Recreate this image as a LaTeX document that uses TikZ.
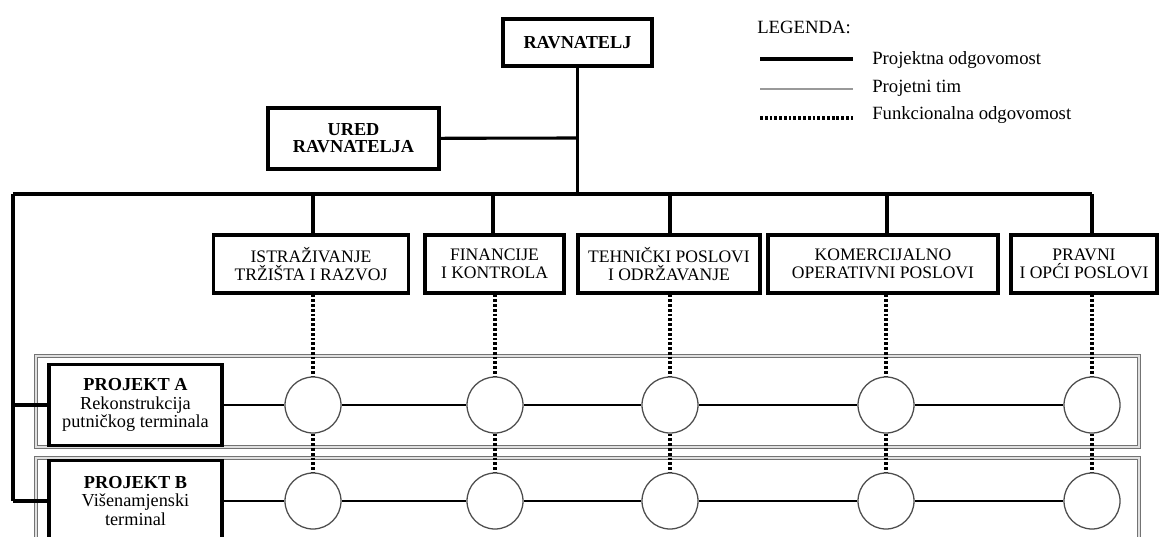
\documentclass[tikz,border=0pt]{standalone}
\usepackage{fontspec}
\setmainfont{Liberation Serif}
\pgfdeclarelayer{edgelayer}
\pgfdeclarelayer{nodelayer}
\pgfsetlayers{edgelayer,nodelayer,main}
\tikzset{font=\fontsize{12.5}{13}\selectfont}
\tikzstyle{none}=[inner sep=0pt]
\tikzstyle{chief}=[draw, line width=2.2pt, fill=white, align=center, inner sep=0pt, font=\fontsize{13}{12}\selectfont\bfseries]
\tikzstyle{dept}=[draw, line width=2.2pt, fill=white, align=center, inner sep=0pt, minimum height=1.45cm]
\tikzstyle{proj}=[draw, line width=2.2pt, fill=white, align=center, inner sep=0pt, minimum width=4.325cm, minimum height=2.025cm, font=\fontsize{13}{13}\selectfont]
\tikzstyle{member}=[circle, draw=black!70, line width=0.9pt, fill=white, inner sep=0pt, minimum size=1.4cm]
\tikzstyle{legtext}=[anchor=west, inner sep=0pt, font=\fontsize{13.3}{13}\selectfont]
\tikzstyle{org}=[line width=2.2pt]
\tikzstyle{resp}=[line width=1.7pt]
\tikzstyle{team}=[line width=1.6pt, black!40]
\tikzstyle{func}=[line width=2.4pt, dash pattern=on 2pt off 1.4pt]
\tikzstyle{projframe}=[draw=black!55, double=black!12, double distance=1pt, line width=0.6pt]

\begin{document}
\begin{tikzpicture}
	\useasboundingbox (0,0) rectangle (28.975,-13.425);
	\begin{pgfonlayer}{nodelayer}
		\clip (0,0) rectangle (28.975,-13.425);
		\node [style=chief, minimum width=3.725cm, minimum height=1.175cm] (0) at (14.4375, -1.0625) {RAVNATELJ};
		\node [style=chief, minimum width=4.275cm, minimum height=1.525cm] (1) at (8.8375, -3.4625) {URED\\RAVNATELJA};
		\node [style=dept, minimum width=4.875cm] (2) at (7.775, -6.6) {ISTRAŽIVANJE\\TRŽIŠTA I RAZVOJ};
		\node [style=dept, minimum width=3.475cm] (3) at (12.3625, -6.6) {FINANCIJE\\I KONTROLA};
		\node [style=dept, minimum width=4.55cm] (4) at (16.725, -6.6) {TEHNIČKI POSLOVI\\I ODRŽAVANJE};
		\node [style=dept, minimum width=5.75cm] (5) at (22.075, -6.6) {KOMERCIJALNO\\OPERATIVNI POSLOVI};
		\node [style=dept, minimum width=3.65cm] (6) at (27.1, -6.6) {PRAVNI\\I OPĆI POSLOVI};
		\node [style=proj] (7) at (3.3875, -10.125) {\textbf{PROJEKT A}\\Rekonstrukcija\\putničkog terminala};
		\node [style=proj] (8) at (3.3875, -12.525) {\textbf{PROJEKT B}\\Višenamjenski\\terminal};
		\node [style=member] (9) at (7.825, -10.125) {};
		\node [style=member] (10) at (12.375, -10.125) {};
		\node [style=member] (11) at (16.75, -10.125) {};
		\node [style=member] (12) at (22.15, -10.125) {};
		\node [style=member] (13) at (27.3, -10.125) {};
		\node [style=member] (14) at (7.825, -12.525) {};
		\node [style=member] (15) at (12.375, -12.525) {};
		\node [style=member] (16) at (16.75, -12.525) {};
		\node [style=member] (17) at (22.15, -12.525) {};
		\node [style=member] (18) at (27.3, -12.525) {};
		\node [style=none] (19) at (14.4375, -3.45) {};
		\node [style=none] (20) at (14.4375, -4.85) {};
		\node [style=none] (21) at (0.325, -4.85) {};
		\node [style=none] (22) at (27.3, -4.85) {};
		\node [style=none] (23) at (0.325, -10.125) {};
		\node [style=none] (24) at (0.325, -12.525) {};
		\node [style=none] (25) at (7.825, -4.85) {};
		\node [style=none] (26) at (12.325, -4.85) {};
		\node [style=none] (27) at (16.75, -4.85) {};
		\node [style=none] (28) at (22.175, -4.85) {};
		\node [style=legtext] (29) at (18.925, -0.675) {LEGENDA:};
		\node [style=none] (30) at (19, -1.475) {};
		\node [style=none] (31) at (21.325, -1.475) {};
		\node [style=none] (32) at (19, -2.225) {};
		\node [style=none] (33) at (21.325, -2.225) {};
		\node [style=none] (34) at (19, -2.95) {};
		\node [style=none] (35) at (21.325, -2.95) {};
		\node [style=legtext] (36) at (21.8, -1.5) {Projektna odgovomost};
		\node [style=legtext] (37) at (21.8, -2.2) {Projetni tim};
		\node [style=legtext] (38) at (21.8, -2.875) {Funkcionalna odgovomost};
		\node [style=none] (39) at (0.9, -8.9) {};
		\node [style=none] (40) at (28.475, -11.175) {};
		\node [style=none] (41) at (0.9, -11.45) {};
		\node [style=none] (42) at (28.475, -14) {};
	\end{pgfonlayer}
	\begin{pgfonlayer}{edgelayer}
		\clip (0,0) rectangle (28.975,-13.425);
		\draw [style=projframe] (39.center) rectangle (40.center);
		\draw [style=projframe] (41.center) rectangle (42.center);
		\draw [style=org] (0) to (20.center);
		\draw [style=org] (1) to (19.center);
		\draw [style=org] (21.center) to (22.center);
		\draw [style=org] (21.center) to (24.center);
		\draw [style=org] (23.center) to (7);
		\draw [style=org] (24.center) to (8);
		\draw [style=org] (25.center) to (25 |- 2.north);
		\draw [style=org] (26.center) to (26 |- 3.north);
		\draw [style=org] (27.center) to (27 |- 4.north);
		\draw [style=org] (28.center) to (28 |- 5.north);
		\draw [style=org] (22.center) to (22 |- 6.north);
		\draw [style=resp] (7) to (9) to (10) to (11) to (12) to (13);
		\draw [style=resp] (8) to (14) to (15) to (16) to (17) to (18);
		\draw [style=func] (9 |- 2.south) to (9);
		\draw [style=func] (10 |- 3.south) to (10);
		\draw [style=func] (11 |- 4.south) to (11);
		\draw [style=func] (12 |- 5.south) to (12);
		\draw [style=func] (13 |- 6.south) to (13);
		\draw [style=func] (9) to (14);
		\draw [style=func] (10) to (15);
		\draw [style=func] (11) to (16);
		\draw [style=func] (12) to (17);
		\draw [style=func] (13) to (18);
		\draw [line width=3pt] (30.center) to (31.center);
		\draw [style=team] (32.center) to (33.center);
		\draw [style=func] (34.center) to (35.center);
	\end{pgfonlayer}
\end{tikzpicture}
\end{document}
